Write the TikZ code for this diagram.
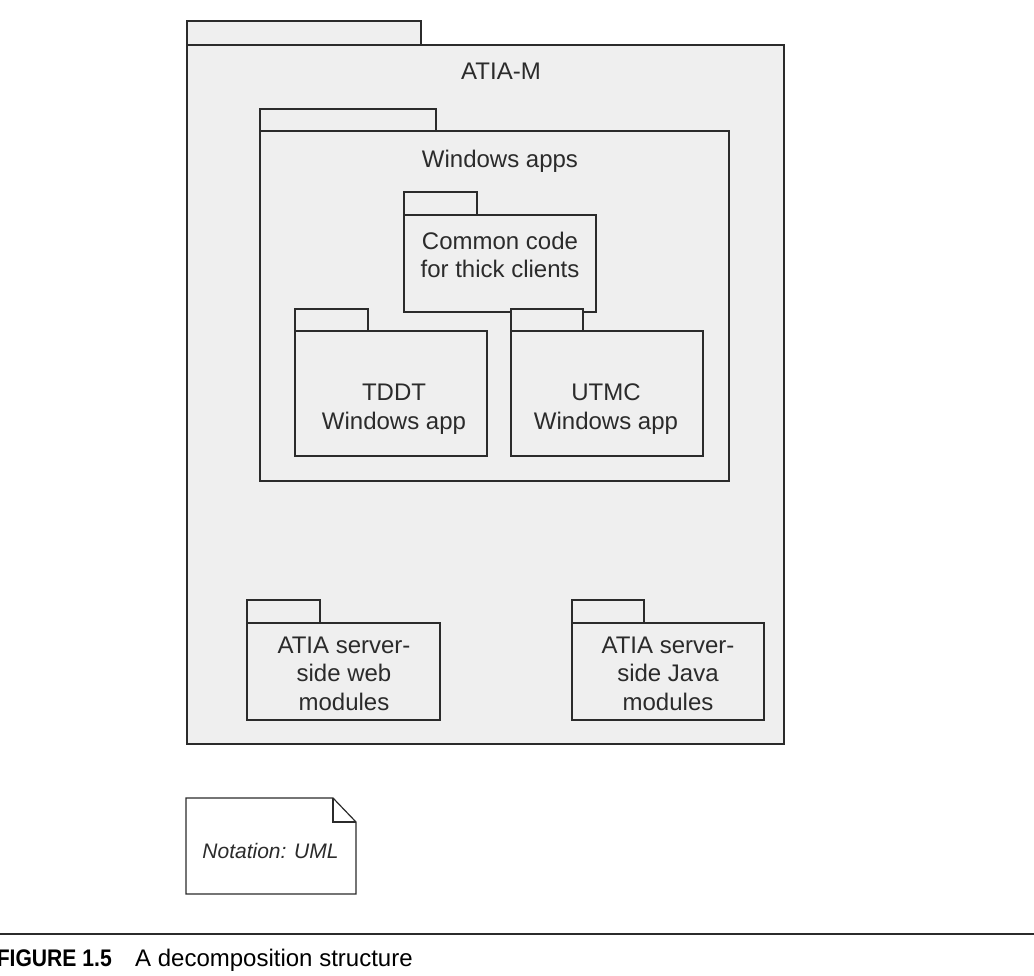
\documentclass[tikz,border=0pt]{standalone}
\usepackage{graphicx}
\usepackage{fontspec}
\setmainfont{Liberation Sans}
\definecolor{linec}{HTML}{2B2B2B}
\definecolor{pkgfill}{HTML}{EFEFEF}
\newcommand\umlpkg[7]{%
  % name, x1, y1, x2, y2, tab width, tab height
  \node[pkgtab, minimum width=#6pt, minimum height=#7pt, anchor=south west] (#1tab) at (#2,#3) {};
  \node[pkgbody, minimum width={(#4-#2)*1pt}, minimum height={(#5-#3)*1pt}] (#1) at ({(#2+#4)/2},{(#3+#5)/2}) {};
}
\begin{document}
\begin{tikzpicture}[x=1pt,y=-1pt,
  pkgbody/.style={draw=linec, fill=pkgfill, line width=1.5pt, rectangle, inner sep=0pt, outer sep=0pt},
  pkgtab/.style={draw=linec, fill=pkgfill, line width=1.2pt, rectangle, inner sep=0pt, outer sep=0pt},
  lbl/.style={font=\fontsize{24}{28.5}\selectfont, text=linec, align=center, inner sep=0pt, anchor=base},
  notetxt/.style={font=\fontsize{21}{25}\selectfont\itshape, text=linec, inner sep=0pt, anchor=base},
  captxt/.style={text=black, inner sep=0pt}]
\useasboundingbox (0,0) rectangle (1034,976);
\clip (0,0) rectangle (1034,976);

\umlpkg{atiam}{187}{45}{784}{744}{234}{24}
\node[lbl] (atiamlbl) at (501,80) {ATIA-M};

\umlpkg{winapps}{260}{131}{729}{481}{176}{22}
\node[lbl] (winappslbl) at (500,168) {Windows apps};

\umlpkg{common}{404}{215}{596}{312}{73}{23}
\node[lbl] (commonlbl) at (500,278) {Common code\\for thick clients};

\umlpkg{tddt}{295}{331}{487}{456}{73}{22}
\node[lbl] (tddtlbl) at (394,429) {TDDT\\Windows app};

\umlpkg{utmc}{511}{331}{703}{456}{72}{22}
\node[lbl] (utmclbl) at (606,429) {UTMC\\Windows app};

\umlpkg{web}{247}{623}{440}{720}{73}{23}
\node[lbl] (weblbl) at (344,710) {ATIA server-\\side web\\modules};

\umlpkg{java}{572}{623}{764}{720}{72}{23}
\node[lbl] (javalbl) at (668,710) {ATIA server-\\side Java\\modules};

% note
\draw[draw=linec, fill=white, line width=1.2pt, line join=miter] (186,798) -- (333,798) -- (356,822) -- (356,894) -- (186,894) -- cycle;
\draw[draw=linec, line width=1.2pt] (333,798) -- (333,822) -- (356,822);
\node[notetxt] (notelbl) at (270.5,858) {Notation: UML};

% caption
\coordinate (ruleL) at (0,934);
\coordinate (ruleR) at (1034,934);
\draw[line width=1.3pt, draw=linec] (ruleL) -- (ruleR);
\node[captxt, anchor=base east, font=\fontsize{24}{28}\selectfont\bfseries] (figno) at (112,966) {\scalebox{0.88}[1]{FIGURE 1.5}};
\node[captxt, anchor=base west, font=\fontsize{24}{28}\selectfont] (figcap) at (135,966) {A decomposition structure};
\end{tikzpicture}
\end{document}
